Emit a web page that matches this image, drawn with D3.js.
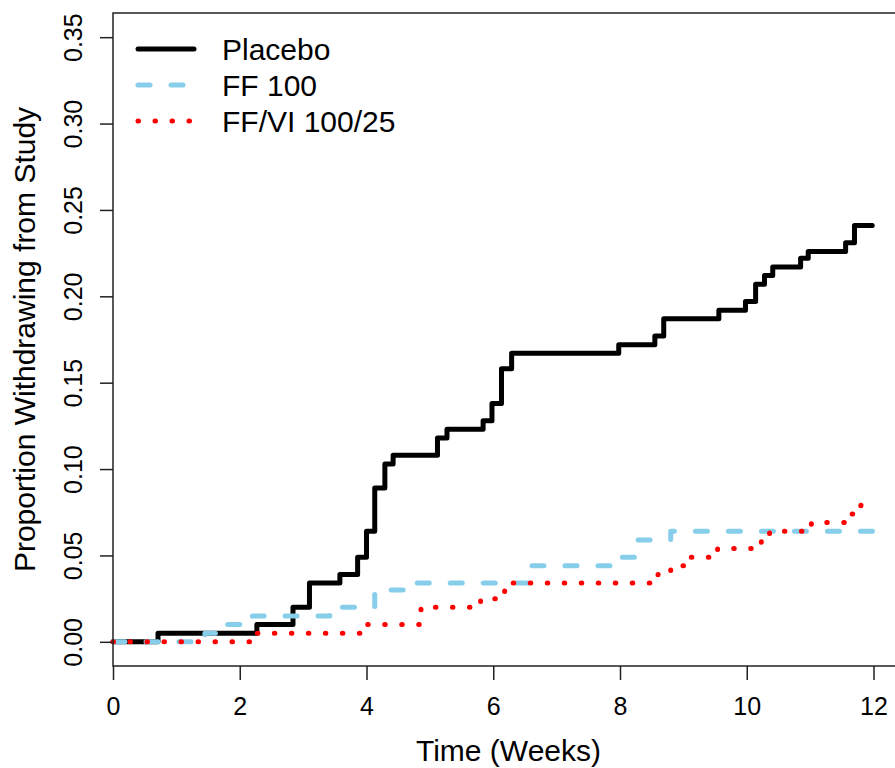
<!DOCTYPE html>
<html>
<head>
<meta charset="utf-8">
<script src="https://cdn.jsdelivr.net/npm/d3@7"></script>
<style>
  body { margin: 0; background: #fff; }
  text { font-family: "Liberation Sans", Arial, sans-serif; }
</style>
</head>
<body>
<div id="chart"></div>
<script>
// Step data (weeks, cumulative proportion)
const placeboTimes = [0, 0.71, 2.27, 2.84, 3.1, 3.58, 3.86, 4.0, 4.13, 4.29, 4.42, 5.12, 5.27, 5.84, 5.98, 6.13, 6.29, 7.98, 8.55, 8.69, 9.56, 9.98, 10.14, 10.28, 10.41, 10.85, 10.97, 11.56, 11.70, 11.98];
const placeboValues = [0, 0.005, 0.010, 0.020, 0.034, 0.039, 0.049, 0.064, 0.089, 0.103, 0.108, 0.118, 0.123, 0.128, 0.138, 0.158, 0.167, 0.172, 0.177, 0.187, 0.192, 0.197, 0.207, 0.212, 0.217, 0.222, 0.226, 0.231, 0.241, 0.241];

const ffTimes = [0, 1.45, 1.8, 2.2, 3.42, 4.13, 4.68, 6.55, 7.9, 8.28, 8.8, 12.0];
const ffValues = [0, 0.005, 0.010, 0.015, 0.020, 0.030, 0.034, 0.044, 0.049, 0.059, 0.064, 0.064];

const ffviTimes = [0, 2.27, 3.97, 4.86, 5.8, 6.18, 6.3, 8.6, 8.8, 9.1, 9.54, 10.23, 10.36, 11.02, 11.65, 11.8, 12.0];
const ffviValues = [0, 0.005, 0.010, 0.020, 0.025, 0.030, 0.034, 0.039, 0.044, 0.049, 0.054, 0.059, 0.064, 0.069, 0.074, 0.079, 0.079];

const seriesNames = ['Placebo', 'FF 100', 'FF/VI 100/25'];
const xTicks = [0, 2, 4, 6, 8, 10, 12];
const yTicks = [0, 0.05, 0.10, 0.15, 0.20, 0.25, 0.30, 0.35];

const W = 895, H = 768;
const svg = d3.select('#chart')
    .append('svg')
    .attr('width', W)
    .attr('height', H);

// Plot region (right edge of the box runs off the page)
const x = d3.scaleLinear().domain([0, 12]).range([113, 873.5]);
const y = d3.scaleLinear().domain([-0.014, 0.364]).range([666, 13]);
const plotRight = 904;

const styles = [
    { color: '#000000', dash: null },
    { color: '#87CEEB', dash: '12 21' },
    { color: '#FF0000', dash: '0.5 16.5' }
];

const series = [
    { times: placeboTimes, values: placeboValues },
    { times: ffTimes, values: ffValues },
    { times: ffviTimes, values: ffviValues }
];

const line = d3.line()
    .x(d => x(d[0]))
    .y(d => y(d[1]))
    .curve(d3.curveStepAfter);

// Placebo first, others drawn over it
series.forEach((s, i) => {
    const pts = s.times.map((t, j) => [t, s.values[j]]);
    svg.append('path')
        .datum(pts)
        .attr('d', line)
        .attr('fill', 'none')
        .attr('stroke', styles[i].color)
        .attr('stroke-width', 5)
        .attr('stroke-linecap', 'round')
        .attr('stroke-linejoin', 'round')
        .attr('stroke-dasharray', styles[i].dash);
});

// Box
svg.append('rect')
    .attr('x', 113)
    .attr('y', 13)
    .attr('width', plotRight - 113)
    .attr('height', 653)
    .attr('fill', 'none')
    .attr('stroke', '#222')
    .attr('stroke-width', 1.5);

// X axis
const xAxis = svg.append('g')
    .attr('transform', 'translate(0,666)')
    .call(d3.axisBottom(x).tickValues(xTicks).tickSize(14).tickFormat(d3.format('d')));
xAxis.select('.domain').remove();
xAxis.selectAll('line').attr('stroke', '#222').attr('stroke-width', 1.5);
xAxis.selectAll('text')
    .attr('y', 49)
    .attr('dy', 0)
    .attr('fill', '#000')
    .style('font-size', '25px');

// Y axis
const yAxis = svg.append('g')
    .attr('transform', 'translate(113,0)')
    .call(d3.axisLeft(y).tickValues(yTicks).tickSize(13).tickFormat(d3.format('.2f')));
yAxis.select('.domain').remove();
yAxis.selectAll('line').attr('stroke', '#222').attr('stroke-width', 1.5);
yAxis.selectAll('text')
    .attr('x', 0)
    .attr('dy', 0)
    .attr('transform', 'translate(-31,0) rotate(-90)')
    .attr('text-anchor', 'middle')
    .attr('fill', '#000')
    .style('font-size', '25px');

// Axis titles
svg.append('text')
    .attr('x', (113 + plotRight) / 2)
    .attr('y', 761)
    .attr('text-anchor', 'middle')
    .style('font-size', '30px')
    .text('Time (Weeks)');

svg.append('text')
    .attr('transform', 'translate(35,339.5) rotate(-90)')
    .attr('text-anchor', 'middle')
    .style('font-size', '30px')
    .text('Proportion Withdrawing from Study');

// Legend
const legend = svg.append('g');
seriesNames.forEach((name, i) => {
    const ly = 49 + i * 36;
    legend.append('line')
        .attr('x1', 138).attr('x2', 194)
        .attr('y1', ly).attr('y2', ly)
        .attr('stroke', styles[i].color)
        .attr('stroke-width', 5)
        .attr('stroke-linecap', 'round')
        .attr('stroke-dasharray', styles[i].dash);
    legend.append('text')
        .attr('x', 222)
        .attr('y', ly + 11)
        .style('font-size', '30px')
        .text(name);
});
</script>
</body>
</html>
